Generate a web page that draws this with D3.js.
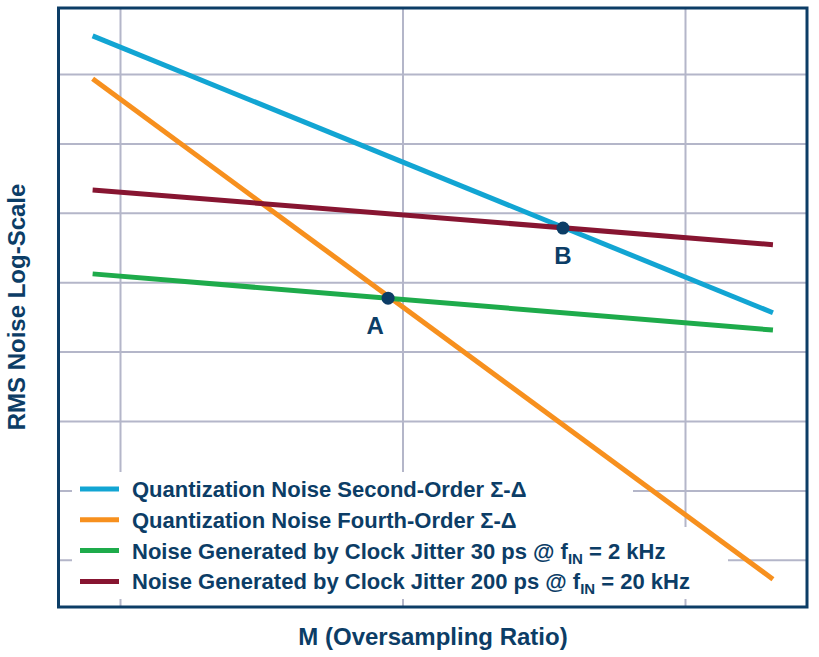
<!DOCTYPE html>
<html><head><meta charset="utf-8">
<script src="https://cdn.jsdelivr.net/npm/d3@7"></script>
<style>
html,body{margin:0;padding:0;background:#fff;}
svg{display:block;font-family:"Liberation Sans",Arial,Helvetica,sans-serif;}
</style></head>
<body>
<svg id="chart" width="819" height="657"></svg>
<script>
// ---- data (M on log axis, noise in log units) ----
const xTicks = [10, 100, 1000];
const yTicks = [0, 1, 2, 3, 4, 5, 6, 7];
const mValues = [8, 2048];
const secondOrder = [7.55, 3.56];
const fourthOrder = [6.93, -0.28];
const jitter30 = [4.12, 3.31];
const jitter200 = [5.33, 4.54];
const seriesNames = [
  "Quantization Noise Second-Order Σ-Δ",
  "Quantization Noise Fourth-Order Σ-Δ",
  "Noise Generated by Clock Jitter 30 ps @ f|IN| = 2 kHz",
  "Noise Generated by Clock Jitter 200 ps @ f|IN| = 20 kHz"
];
const seriesColors = ["#12a5d3", "#f7901e", "#1eab4b", "#871531"];
const pointLabels = ["A", "B"];
const pointM = [88.9, 369.8];
const pointV = [3.77, 4.78];

const navy = "#0c3d66";
const gridColor = "#b4b6c9";

const svg = d3.select("#chart");
const plot = {left: 58.5, top: 8, right: 807, bottom: 607};

const x = d3.scaleLog().domain([10, 1000]).range([120, 685]);
const y = d3.scaleLinear().domain([0, 7]).range([559.8, 74]);

// gridlines via axes
const gy = svg.append("g").attr("transform", `translate(${plot.left},0)`)
  .call(d3.axisRight(y).tickValues(yTicks).tickSize(plot.right - plot.left).tickFormat(""));
const gx = svg.append("g").attr("transform", `translate(0,${plot.top})`)
  .call(d3.axisBottom(x).tickValues(xTicks).tickSize(plot.bottom - plot.top).tickFormat(""));
[gx, gy].forEach(g => {
  g.select(".domain").remove();
  g.selectAll(".tick line").attr("stroke", gridColor).attr("stroke-width", 2);
});

// legend white background (stepped)
svg.append("rect").attr("x", 72).attr("y", 472).attr("width", 561).attr("height", 56).attr("fill", "#fff");
svg.append("rect").attr("x", 72).attr("y", 527).attr("width", 656).attr("height", 72).attr("fill", "#fff");

// series lines
const allSeries = [secondOrder, fourthOrder, jitter30, jitter200];
const line = d3.line().x(d => x(d[0])).y(d => y(d[1]));
allSeries.forEach((vals, i) => {
  svg.append("path")
    .attr("d", line(mValues.map((m, j) => [m, vals[j]])))
    .attr("fill", "none")
    .attr("stroke", seriesColors[i])
    .attr("stroke-width", 5);
});

// points A, B
pointLabels.forEach((lab, i) => {
  svg.append("circle").attr("cx", x(pointM[i])).attr("cy", y(pointV[i])).attr("r", 6.5).attr("fill", navy);
});
svg.append("text").attr("x", x(pointM[0]) - 13).attr("y", y(pointV[0]) + 36)
  .attr("text-anchor", "middle").attr("font-size", 24).attr("font-weight", "bold").attr("fill", navy).text(pointLabels[0]);
svg.append("text").attr("x", x(pointM[1])).attr("y", y(pointV[1]) + 36)
  .attr("text-anchor", "middle").attr("font-size", 24).attr("font-weight", "bold").attr("fill", navy).text(pointLabels[1]);

// frame
svg.append("rect").attr("x", plot.left).attr("y", plot.top)
  .attr("width", plot.right - plot.left).attr("height", plot.bottom - plot.top)
  .attr("fill", "none").attr("stroke", navy).attr("stroke-width", 3);

// legend
const legY0 = 489, legDy = 30.8;
seriesNames.forEach((name, i) => {
  const cy = legY0 + i * legDy;
  svg.append("line").attr("x1", 80).attr("x2", 119).attr("y1", cy).attr("y2", cy)
    .attr("stroke", seriesColors[i]).attr("stroke-width", 5);
  const t = svg.append("text").attr("x", 132).attr("y", cy + 8)
    .attr("font-size", 22).attr("font-weight", "bold").attr("fill", navy);
  const parts = name.split("|");
  parts.forEach((p, k) => {
    const ts = t.append("tspan").text(p);
    if (k === 1) ts.attr("font-size", 15).attr("dy", 5);
    if (k === 2) ts.attr("dy", -5);
  });
});

// axis titles
svg.append("text").attr("x", 433).attr("y", 645).attr("text-anchor", "middle")
  .attr("font-size", 24).attr("font-weight", "bold").attr("fill", navy).text("M (Oversampling Ratio)");
svg.append("text").attr("transform", "translate(25,307) rotate(-90)").attr("text-anchor", "middle")
  .attr("font-size", 24).attr("font-weight", "bold").attr("fill", navy).text("RMS Noise Log-Scale");
</script>
</body></html>
